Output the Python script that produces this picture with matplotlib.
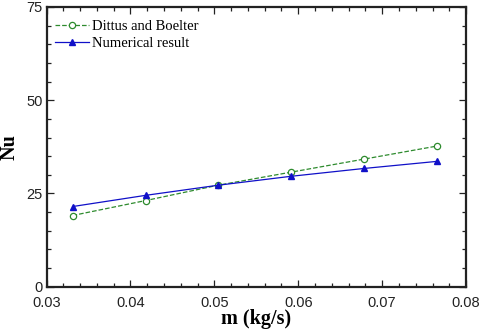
import matplotlib.pyplot as plt
from matplotlib.ticker import MultipleLocator, FormatStrFormatter

plt.rcParams['font.family'] = ['Liberation Sans', 'DejaVu Sans']

# mass flow rate (kg/s) and Nusselt number
m_flow = [0.0331, 0.0418, 0.0504, 0.0591, 0.0678, 0.0765]
nu_dittus = [19.1, 23.1, 27.2, 30.7, 34.2, 37.7]
nu_numeric = [21.5, 24.5, 27.2, 29.6, 31.7, 33.6]

fig = plt.figure(figsize=(4.8, 3.3), dpi=100)
ax = fig.add_axes([0.097, 0.131, 0.874, 0.848])

ax.plot(m_flow, nu_dittus, '--o', color='#2e8b2e', lw=0.9, ms=4.5,
        mfc='white', mec='#2e8b2e', mew=0.9, label='Dittus and Boelter')
ax.plot(m_flow, nu_numeric, '-^', color='#1010c8', lw=0.9, ms=4.5,
        mfc='#1010c8', mec='#1010c8', label='Numerical result')

ax.set_xlim(0.03, 0.08)
ax.set_ylim(0, 75)
ax.xaxis.set_major_locator(MultipleLocator(0.01))
ax.xaxis.set_minor_locator(MultipleLocator(0.002))
ax.yaxis.set_major_locator(MultipleLocator(25))
ax.yaxis.set_minor_locator(MultipleLocator(5))
ax.xaxis.set_major_formatter(FormatStrFormatter('%.2f'))
ax.tick_params(which='both', direction='in', top=True, right=True,
               labelsize=10.5, width=0.9, colors='#222222')
ax.tick_params(which='major', length=5)
ax.tick_params(which='minor', length=3)
ax.tick_params(axis='x', pad=7)
ax.tick_params(axis='y', pad=3)
for sp in ax.spines.values():
    sp.set_linewidth(1.6)
    sp.set_color('#222222')

ax.set_xlabel('m (kg/s)', fontsize=14.5, fontweight='bold',
              family='Liberation Serif', labelpad=-1)
ax.set_ylabel('Nu', fontsize=14.5, fontweight='bold',
              family='Liberation Serif', labelpad=5)

ax.legend(loc='upper left', frameon=False, handlelength=2.3,
          handletextpad=0.25, borderaxespad=0.2, labelspacing=0.25,
          bbox_to_anchor=(0.0, 0.985),
          prop={'family': 'Liberation Serif', 'size': 10.5})

fig.savefig('out.png', dpi=100)
